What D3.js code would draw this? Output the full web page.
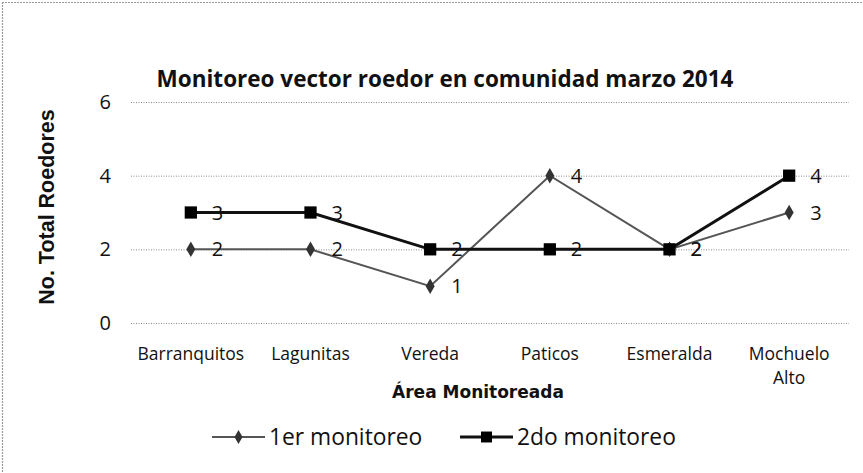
<!DOCTYPE html>
<html><head><meta charset="utf-8">
<script src="https://cdn.jsdelivr.net/npm/d3@7"></script>
<style>body{margin:0;background:#fff}svg{display:block}</style>
</head><body>
<svg id="c" width="863" height="473"></svg>
<script>
const categories = ["Barranquitos","Lagunitas","Vereda","Paticos","Esmeralda","Mochuelo Alto"];
const serie1 = [2,2,1,4,2,3];   // 1er monitoreo
const serie2 = [3,3,2,2,2,4];   // 2do monitoreo
const seriesNames = ["1er monitoreo","2do monitoreo"];
const yTicks = [0,2,4,6];
const titleText = "Monitoreo vector roedor en comunidad marzo 2014";
const xTitle = "Área Monitoreada";
const yTitle = "No. Total Roedores";

const svg = d3.select("#c");
const W = 863, H = 473;
const plot = {l:131, r:849, t:102, b:323};

// frame
svg.append("line").attr("x1",2).attr("x2",W).attr("y1",2.5).attr("y2",2.5)
  .attr("stroke","#9a9a9a").attr("stroke-width",1.2).attr("stroke-dasharray","2,1");
svg.append("line").attr("x1",2.5).attr("x2",2.5).attr("y1",2).attr("y2",H)
  .attr("stroke","#9a9a9a").attr("stroke-width",1.2).attr("stroke-dasharray","2,1");

const x = d3.scaleBand().domain(categories).range([plot.l, plot.r]);
const y = d3.scaleLinear().domain([0,6]).range([plot.b, plot.t]);
const cx = c => x(c) + x.bandwidth()/2;

// grid
svg.append("g").selectAll("line").data(yTicks).join("line")
  .attr("x1",plot.l).attr("x2",plot.r)
  .attr("y1",d=>y(d)+0.5).attr("y2",d=>y(d)+0.5)
  .attr("stroke","#8a8a8a").attr("stroke-width",1).attr("stroke-dasharray","1,1.5");

// y axis labels
const yAxis = d3.axisLeft(y).tickValues(yTicks).tickFormat(d3.format("d")).tickSize(0).tickPadding(0);
const yg = svg.append("g").attr("transform",`translate(${111},0)`).call(yAxis);
yg.select(".domain").remove();
yg.selectAll("text").attr("font-family","Open Sans").attr("font-size",20).attr("fill","#111");

// x axis labels
const xAxis = d3.axisBottom(x).tickSize(0).tickPadding(0);
const xg = svg.append("g").attr("transform",`translate(0,${347})`).call(xAxis);
xg.select(".domain").remove();
xg.selectAll("text").attr("font-family","Open Sans").attr("font-size",17.5).attr("fill","#111")
  .attr("dy",null).attr("y",0).each(function(d){
    const t = d3.select(this); const words = d.split(" ");
    if (d === "Mochuelo Alto") {
      t.text(null);
      t.append("tspan").attr("x",0).attr("y",13).text(words[0]);
      t.append("tspan").attr("x",0).attr("y",37).text(words[1]);
    } else { t.attr("y",13); }
  });

// titles
svg.append("text").attr("x",445).attr("y",87).attr("text-anchor","middle")
  .attr("font-family","Open Sans").attr("font-weight","bold").attr("font-size",22.5).attr("fill","#111")
  .text(titleText);
svg.append("text").attr("x",478).attr("y",398).attr("text-anchor","middle")
  .attr("font-family","DejaVu Sans").attr("font-weight","bold").attr("font-size",17).attr("fill","#111")
  .text(xTitle);
svg.append("text").attr("transform","translate(54,207) rotate(-90)").attr("text-anchor","middle")
  .attr("font-family","Liberation Sans").attr("font-weight","bold").attr("font-size",21.5).attr("fill","#111")
  .text(yTitle);

const line = d3.line().x((d,i)=>cx(categories[i])).y(d=>y(d));
const styles = [
  {data:serie1, stroke:"#555", w:2, marker:d3.symbolDiamond, msize:70, fill:"#333"},
  {data:serie2, stroke:"#111", w:3, marker:d3.symbolSquare, msize:150, fill:"#000"}
];
styles.forEach(s=>{
  svg.append("path").datum(s.data).attr("d",line).attr("fill","none")
    .attr("stroke",s.stroke).attr("stroke-width",s.w);
});
styles.forEach(s=>{
  svg.append("g").selectAll("path").data(s.data).join("path")
    .attr("transform",(d,i)=>`translate(${cx(categories[i])},${y(d)})`)
    .attr("d",d3.symbol().type(s.marker).size(s.msize)).attr("fill",s.fill);
});
styles.forEach(s=>{
  svg.append("g").selectAll("text").data(s.data).join("text")
    .attr("x",(d,i)=>cx(categories[i])+21).attr("y",d=>y(d)+7)
    .attr("font-family","Open Sans").attr("font-size",20).attr("fill","#111")
    .text(d=>d);
});

// legend
const leg = [{x:212, s:styles[0], name:seriesNames[0]},{x:460, s:styles[1], name:seriesNames[1]}];
leg.forEach(l=>{
  const g = svg.append("g").attr("transform",`translate(${l.x},437)`);
  g.append("line").attr("x1",0).attr("x2",53).attr("stroke",l.s.stroke).attr("stroke-width",l.s.w);
  g.append("path").attr("transform","translate(26.5,0)").attr("d",d3.symbol().type(l.s.marker).size(l.s.msize*0.8)).attr("fill",l.s.fill);
  g.append("text").attr("x",57).attr("y",8).attr("font-family","Open Sans").attr("font-size",22.8).attr("fill","#111").text(l.name);
});
</script>
</body></html>
